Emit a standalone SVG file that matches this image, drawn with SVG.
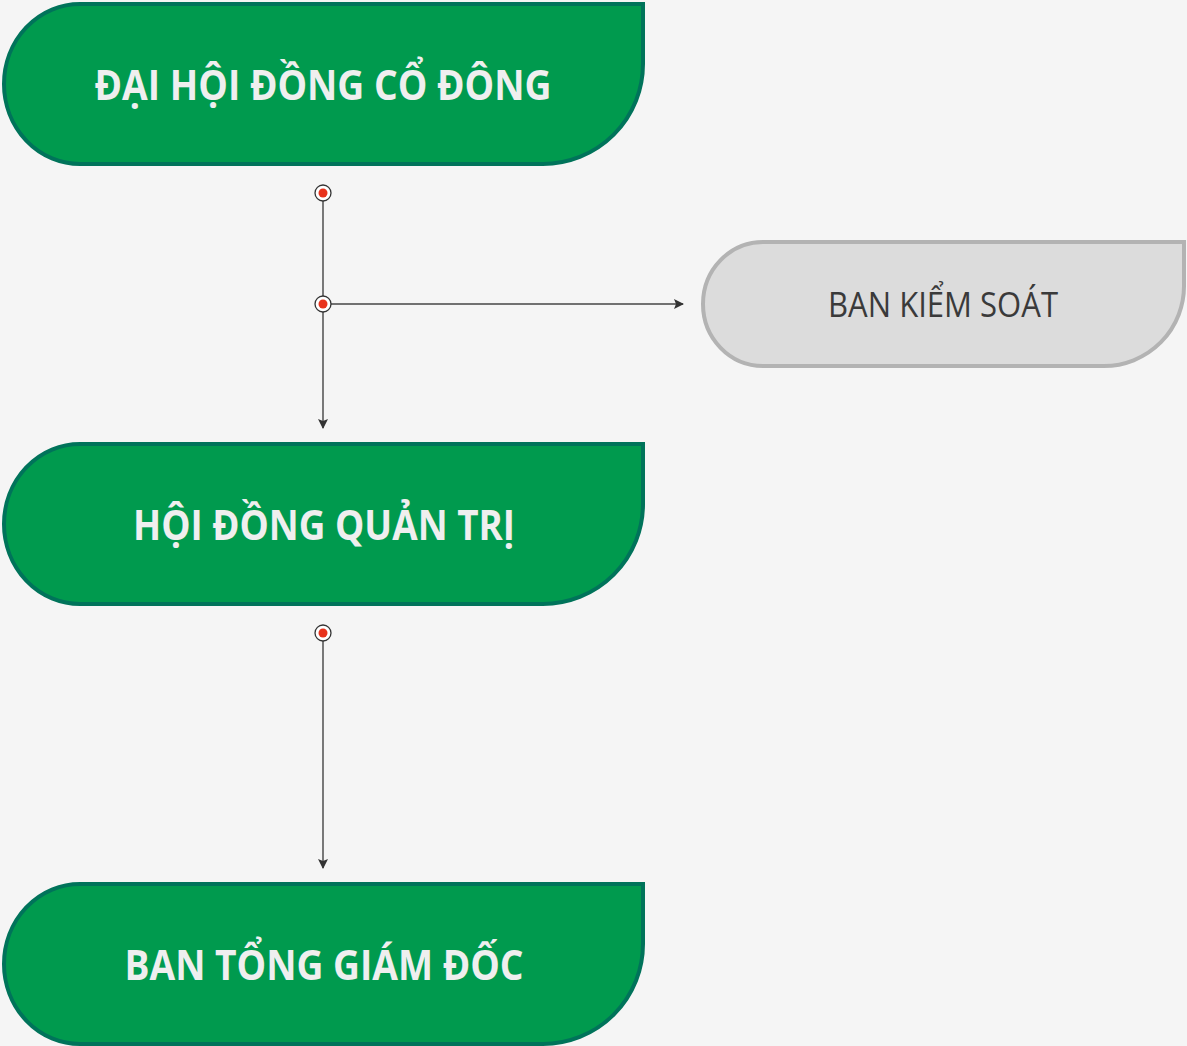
<svg xmlns="http://www.w3.org/2000/svg" width="1187" height="1046" viewBox="0 0 1187 1046">
<defs>
<style>
.g{fill:#009a4e;stroke:#00735a;stroke-width:4}
.gy{fill:#dcdcdc;stroke:#b3b3b3;stroke-width:4}
.gt{font-family:"Open Sans","Liberation Sans",sans-serif;font-weight:700;font-size:42px;fill:#efefef;text-anchor:middle}
.yt{font-family:"Open Sans","Liberation Sans",sans-serif;font-size:35px;fill:#3a3a3a;text-anchor:middle}
.ln{stroke:#444;stroke-width:1.4;fill:none}
.dot{fill:#fff;stroke:#333;stroke-width:1.3}
.red{fill:#e8321c}
</style>
<marker id="ar" viewBox="0 0 10 10" refX="9" refY="5" markerWidth="10" markerHeight="10" markerUnits="userSpaceOnUse" orient="auto">
<path d="M0,0 L10,5 L0,10 L2,5 Z" fill="#333"/>
</marker>
</defs>
<rect width="1187" height="1046" fill="#f5f5f5"/>
<g id="connectors">
<path class="ln" d="M323,193 V428" marker-end="url(#ar)"/>
<path class="ln" d="M323,304 H683" marker-end="url(#ar)"/>
<path class="ln" d="M323,633 V868" marker-end="url(#ar)"/>
<circle class="dot" cx="323" cy="193" r="8"/><circle class="red" cx="323" cy="193" r="4.5"/>
<circle class="dot" cx="323" cy="304" r="8"/><circle class="red" cx="323" cy="304" r="4.5"/>
<circle class="dot" cx="323" cy="633" r="8"/><circle class="red" cx="323" cy="633" r="4.5"/>
</g>
<g id="n1">
<path class="g" d="M80,4 H643 V64 A100 100 0 0 1 543,164 H80 A76 80 0 0 1 4,84 A76 80 0 0 1 80,4 Z"/>
<text class="gt" x="323" y="100" textLength="457" lengthAdjust="spacingAndGlyphs">ĐẠI HỘI ĐỒNG CỔ ĐÔNG</text>
</g>
<g id="n2">
<path class="g" d="M80,444 H643 V504 A100 100 0 0 1 543,604 H80 A76 80 0 0 1 4,524 A76 80 0 0 1 80,444 Z"/>
<text class="gt" x="324" y="540" textLength="382" lengthAdjust="spacingAndGlyphs">HỘI ĐỒNG QUẢN TRỊ</text>
</g>
<g id="n3">
<path class="g" d="M80,884 H643 V944 A100 100 0 0 1 543,1044 H80 A76 80 0 0 1 4,964 A76 80 0 0 1 80,884 Z"/>
<text class="gt" x="324" y="980" textLength="399" lengthAdjust="spacingAndGlyphs">BAN TỔNG GIÁM ĐỐC</text>
</g>
<g id="n4">
<path class="gy" d="M763,242 H1184 V285 A80 80 0 0 1 1104,366 H763 A60 62 0 0 1 703,304 A60 62 0 0 1 763,242 Z"/>
<text class="yt" x="943" y="317" textLength="230" lengthAdjust="spacingAndGlyphs">BAN KIỂM SOÁT</text>
</g>
</svg>
